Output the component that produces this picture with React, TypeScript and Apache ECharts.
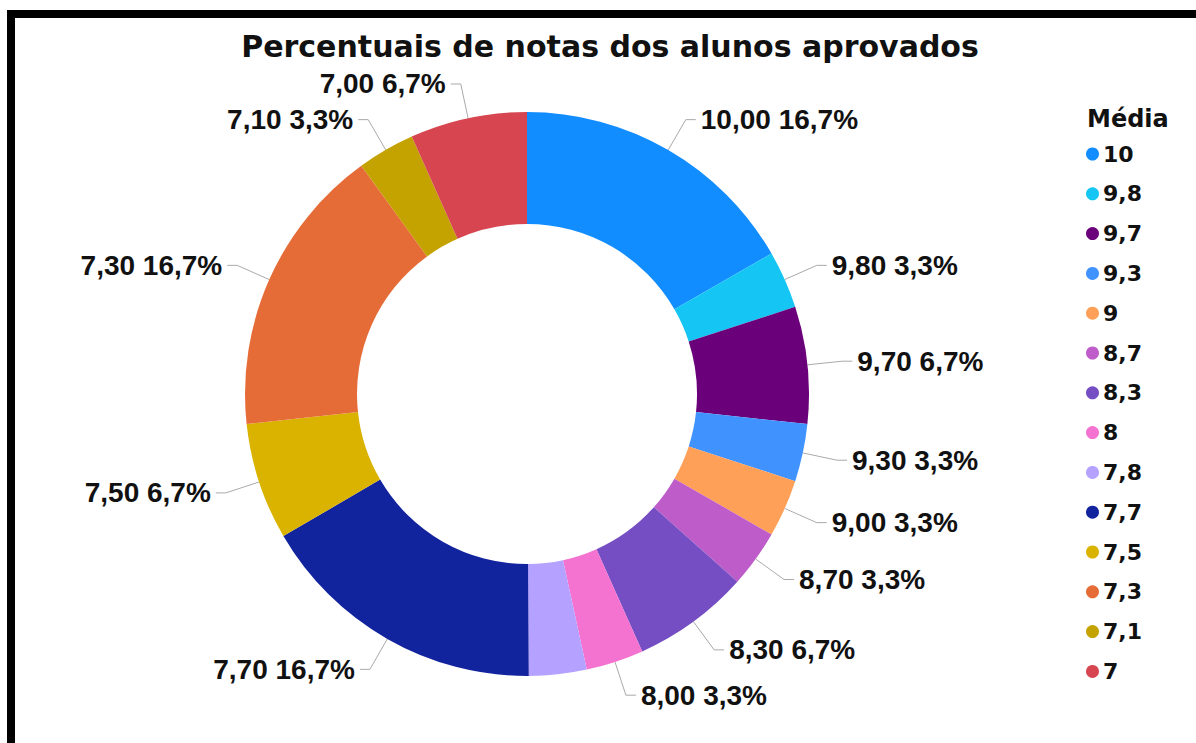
import React, { useEffect, useRef } from "react";
import * as echarts from "echarts";

const chartTitle = "Percentuais de notas dos alunos aprovados";
const legendTitle = "Média";
const medias = [10, 9.8, 9.7, 9.3, 9, 8.7, 8.3, 8, 7.8, 7.7, 7.5, 7.3, 7.1, 7];
const percents = [16.7, 3.3, 6.7, 3.3, 3.3, 3.3, 6.7, 3.3, 3.3, 16.7, 6.7, 16.7, 3.3, 6.7];
const colors = [
  "#118DFF", "#15C6F4", "#6B007B", "#4092FF", "#FFA058", "#BE5DC9", "#744EC2",
  "#F472D0", "#B5A1FF", "#12239E", "#D9B300", "#E66C37", "#C4A200", "#D64550",
];
const hiddenLabels = [7.8];

const fmtName = (v: number) => String(v).replace(".", ",");

export default function App() {
  const ref = useRef<HTMLDivElement>(null);
  useEffect(() => {
    if (!ref.current) return;
    const chart = echarts.init(ref.current, undefined, { renderer: "svg" });
    const data = medias.map((m, i) => {
      const hide = hiddenLabels.includes(m);
      return {
        name: fmtName(m),
        value: percents[i],
        media: m,
        itemStyle: { color: colors[i] },
        ...(hide ? { label: { show: false }, labelLine: { show: false } } : {}),
      };
    });
    chart.setOption({
      animation: false,
      backgroundColor: "#ffffff",
      title: [
        {
          text: chartTitle,
          left: 605,
          textAlign: "center",
          top: 26,
          textStyle: { fontFamily: "DejaVu Sans", fontWeight: "bold", fontSize: 30, color: "#111" },
        },
        {
          text: legendTitle,
          left: 1082,
          top: 102,
          textStyle: { fontFamily: "DejaVu Sans", fontWeight: "bold", fontSize: 24, color: "#111" },
        },
      ],
      legend: {
        orient: "vertical",
        left: 1086,
        top: 143,
        icon: "circle",
        itemWidth: 13,
        itemHeight: 13,
        itemGap: 17.8,
        padding: 0,
        textStyle: {
          fontFamily: "DejaVu Sans",
          fontWeight: "bold",
          fontSize: 22,
          lineHeight: 22,
          color: "#111",
          padding: [0, 0, 0, -1],
        },
        data: medias.map(fmtName),
      },
      graphic: [
        { type: "rect", shape: { x: 7, y: 10, width: 8, height: 740 }, style: { fill: "#000" } },
        { type: "rect", shape: { x: 7, y: 10, width: 1200, height: 8 }, style: { fill: "#000" } },
      ],
      series: [
        {
          type: "pie",
          center: [527, 394],
          radius: [170, 282],
          startAngle: 90,
          clockwise: true,
          avoidLabelOverlap: true,
          itemStyle: { borderWidth: 0 },
          emphasis: { disabled: true },
          label: {
            show: true,
            position: "outside",
            fontFamily: "Liberation Sans",
            fontWeight: "bold",
            fontSize: 28,
            lineHeight: 28,
            color: "#111",
            formatter: (p: any) =>
              p.data.media.toFixed(2).replace(".", ",") + " " + p.value.toFixed(1).replace(".", ",") + "%",
          },
          labelLine: { show: true, length: 35, length2: 10, lineStyle: { color: "#aaa", width: 1 } },
          data,
        },
      ],
    });
    return () => chart.dispose();
  }, []);
  return (
    <div
      ref={ref}
      style={{ position: "fixed", left: 0, top: 0, width: 1196, height: 743, background: "#fff" }}
    />
  );
}
